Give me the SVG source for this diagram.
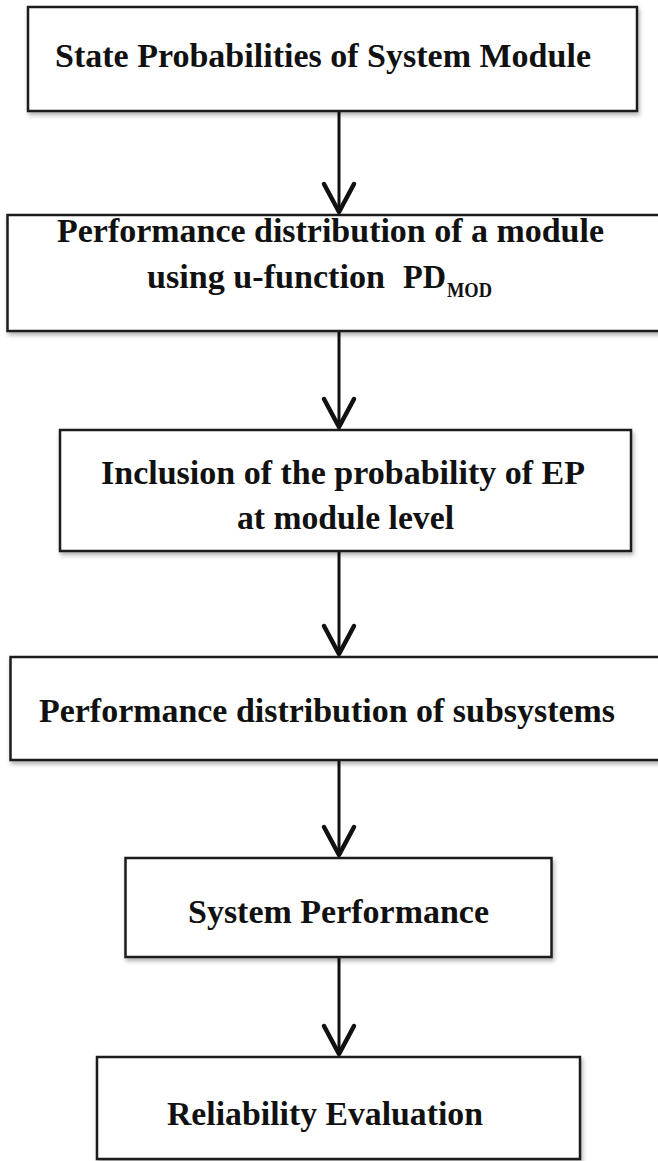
<svg xmlns="http://www.w3.org/2000/svg" width="658" height="1161" viewBox="0 0 658 1161">
<style>
.box{fill:#fff;stroke:#1a1a1a;stroke-width:2.5;filter:url(#sh)}
.t{font-family:"Liberation Serif","Times New Roman",serif;font-weight:bold;font-size:33px;fill:#111}
.sub{font-size:20px}
.ln{stroke:#111;stroke-width:3;fill:none}
.hd{stroke:#111;stroke-width:4.5;fill:none;stroke-linecap:round;stroke-linejoin:round}
</style>
<defs>
<filter id="sh" x="-5%" y="-10%" width="115%" height="130%">
<feDropShadow dx="1.5" dy="3" stdDeviation="2" flood-color="#000" flood-opacity="0.3"/>
</filter>
</defs>
<rect width="658" height="1161" fill="#fff"/>
<g id="connectors">
<line class="ln" x1="339" y1="111" x2="339" y2="213"/>
<polyline class="hd" points="324,184 339,212 354,184"/>
<line class="ln" x1="339" y1="331" x2="339" y2="428"/>
<polyline class="hd" points="324,399 339,427 354,399"/>
<line class="ln" x1="339" y1="551" x2="339" y2="655"/>
<polyline class="hd" points="324,626 339,654 354,626"/>
<line class="ln" x1="339" y1="760" x2="339" y2="856"/>
<polyline class="hd" points="324,827 339,855 354,827"/>
<line class="ln" x1="339" y1="957" x2="339" y2="1055"/>
<polyline class="hd" points="324,1026 339,1054 354,1026"/>
</g>
<g id="n1">
<rect class="box" x="28" y="7" width="609" height="104"/>
<text class="t" x="55" y="67" textLength="536" lengthAdjust="spacingAndGlyphs">State Probabilities of System Module</text>
</g>
<g id="n2">
<rect class="box" x="7.5" y="215" width="670" height="116"/>
<text class="t" x="57" y="242" textLength="547" lengthAdjust="spacingAndGlyphs">Performance distribution of a module</text>
<text class="t" x="147" y="288" textLength="238" lengthAdjust="spacingAndGlyphs">using u-function</text>
<text class="t" x="403" y="288" textLength="43" lengthAdjust="spacingAndGlyphs">PD</text>
<text class="t sub" x="447" y="297" textLength="45" lengthAdjust="spacingAndGlyphs">MOD</text>
</g>
<g id="n3">
<rect class="box" x="60" y="430" width="571" height="121"/>
<text class="t" x="101" y="484" textLength="484" lengthAdjust="spacingAndGlyphs">Inclusion of the probability of EP</text>
<text class="t" x="237" y="529" textLength="217" lengthAdjust="spacingAndGlyphs">at module level</text>
</g>
<g id="n4">
<rect class="box" x="10.5" y="657" width="670" height="103"/>
<text class="t" x="39" y="722" textLength="576" lengthAdjust="spacingAndGlyphs">Performance distribution of subsystems</text>
</g>
<g id="n5">
<rect class="box" x="125.5" y="858" width="426" height="99"/>
<text class="t" x="188" y="923" textLength="301" lengthAdjust="spacingAndGlyphs">System Performance</text>
</g>
<g id="n6">
<rect class="box" x="97" y="1057" width="483" height="102"/>
<text class="t" x="167" y="1125" textLength="316" lengthAdjust="spacingAndGlyphs">Reliability Evaluation</text>
</g>
</svg>
